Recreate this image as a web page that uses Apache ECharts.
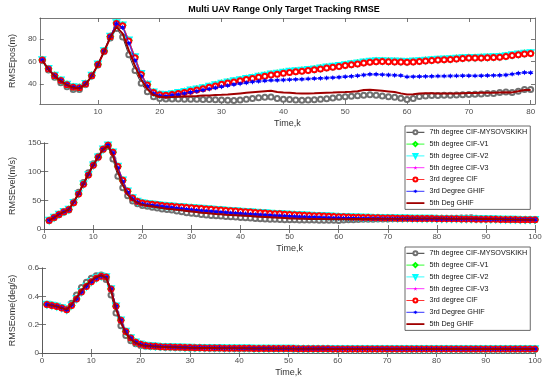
<!DOCTYPE html>
<html><head><meta charset="utf-8">
<script src="https://cdn.jsdelivr.net/npm/echarts@6/dist/echarts.min.js"></script>
<style>html,body{margin:0;padding:0;background:#fff}#c{width:550px;height:384px}</style>
</head><body><div id="c"></div>
<script>
const titleText = 'Multi UAV Range Only Target Tracking RMSE';
const names = ['7th degree CIF-MYSOVSKIKH','5th degree CIF-V1','5th degree CIF-V2','5th degree CIF-V3','3rd degree CIF','3rd Degree GHIF','5th Deg GHIF'];
const yNames = ['RMSEpos(m)','RMSEvel(m/s)','RMSEome(deg/s)'];
const xName = 'Time,k';
const posXTicks = [10,20,30,40,50,60,70,80];
const posYTicks = [40,60,80];

// ---- Position RMSE (k = 1..80)
const posK7 = [61,52.5,46,41,37.5,35,35,39.5,47,57,69,81,89.5,82,66,52,40.5,33,28.5,27,
26.5,26.5,26.5,26.3,26.2,26.2,26.1,26,25.8,25.5,
25.3,25.2,25.5,26.3,27,27.5,28,28.3,27,26.3,
26,25.5,25.3,25.5,25.7,26.2,26.8,27.4,28,28.5,
29,29.3,29.8,30.2,29.8,29.2,28.6,28,27.2,26,
27,28.8,29.2,29.5,29.6,29.8,29.9,30,30.2,30.5,
30.8,31,31.3,31.5,32.3,32.8,32.2,33.5,35,35];
const posV = [61.5,53.5,47.5,43.2,39.5,37.2,36.8,40.2,47.5,57.5,69.5,82.5,94.5,92.5,79,64,49,39.5,32.5,30.5,
30.2,31,32,33,34.2,35.3,36.4,37.6,39,40.4,
41.5,42.5,43.6,44.6,45.6,46.6,47.6,48.6,49.4,50.2,
51,51.5,52,52.6,53.2,54,54.8,55.5,56.2,57,
57.8,58.5,59.3,60,60.5,60.5,60.3,60.2,60,59.8,
60.2,60.6,61,61.4,61.8,62,62.3,62.8,63.2,63.5,
63.5,63.6,63.8,64,64.3,65,65.8,66.5,67.2,67.6];
const posC3 = [61.3,53.3,47.3,43,39.3,37,36.6,40,47.3,57.3,69.3,82.3,94,92,78.5,63.5,48.5,39,32.2,30.2,
29.8,30.5,31.4,32.4,33.5,34.6,35.7,36.9,38.2,39.6,
40.7,41.8,42.9,43.9,44.9,45.9,46.9,47.9,48.7,49.5,
50.2,50.8,51.4,52,52.6,53.4,54.2,54.9,55.6,56.4,
57.2,57.9,58.7,59.4,59.9,60,59.8,59.7,59.5,59.3,
59.7,60.1,60.5,61,61.3,61.6,61.9,62.4,62.8,63.1,
63.1,63.2,63.4,63.6,63.9,64.6,65.4,66.1,66.8,67.2];
const posG3 = [61.4,53.4,47.4,43.1,39.4,37.1,36.7,40.1,47.4,57.4,69.4,82.4,94,90.5,76.5,61,47,38,31.5,29.5,
29,30,30.5,31.5,32.5,33.5,34.5,35.5,36.5,37.5,
38.5,39.5,40.2,41,41.8,42.3,42.8,43.2,43.3,43.5,
43.8,44,44.2,44.5,44.8,45,45.3,45.6,46,46.4,
46.8,47.3,48,48.6,48.6,48.3,48,47.8,47.5,46.3,
46.5,46.6,46.7,46.8,47,47,47.1,47.2,47.3,47.3,
47.2,47.3,47.5,47.6,47.7,48,48.8,49.5,50.2,50];
const posG5 = [61,53,47,42.5,39,36.5,36,39.5,47,57,69,81.5,91,85,70,56,44,35.5,30,28.5,
28,28.2,28.5,28.8,29,29.2,29.5,29.7,30,30.2,
30.5,31,31.5,32,32.5,33,33.5,33.8,32.8,32.2,
32,31.7,31.5,31.5,31.6,31.8,32,32.2,32.5,32.7,
33,33.5,34.5,34.8,34.3,33.8,33.3,32.8,31.5,30.5,
30.8,31.5,31.6,31.6,31.5,31.4,31.4,31.5,31.7,31.8,
31.9,32,32.1,32,32.3,32.6,32.4,33.5,34.5,34.5];

// ---- Velocity RMSE (k = 1..100)
const velK7 = [15,19.5,25,29,33,47,64,81,98,114,127,139,144,122,92,72,58,49,44,41,
39.5,38,36.5,35,34,33,31.5,30,28.5,27.5,
26.5,25.5,24.5,23.5,23,22.5,22,21.5,21,20,
19.5,19,18.5,18,17.5,17,16.8,16.5,16.3,16,
16,15.8,15.7,15.5,15.5,15.4,15.3,15.3,15.2,15,
15.5,16,16.3,16.5,16.8,17,17.2,17.3,17.5,17.6,
17.8,18,18,18.2,18.3,18.4,18.5,18.5,18.6,18.6,
18.7,18.7,18.8,18.8,19,19,19.5,18.8,18.5,18.2,
18,17.5,17,16.5,16.2,16,16.3,16.5,16.2,16];
const velV = [15,20,25.5,30,34,46,61,78,94,111,125,139,146,134,109,85,66,54,48,45.5,
44,43,42.2,41,40.3,39.7,39,38.2,37.6,37,
36.4,35.6,35,34.4,33.6,33.1,32.4,31.7,31.2,30.6,
30,29.5,28.8,28.4,27.8,27.2,26.8,26.4,25.8,25.3,
24.9,24.6,24.1,23.6,23.3,22.9,22.6,22.1,21.8,21.5,
21.2,20.9,20.7,20.4,20.2,20,19.8,19.7,19.4,19.2,
19,18.9,18.7,18.6,18.5,18.4,18.3,18.2,18.1,18,
17.9,17.8,17.7,17.7,17.5,17.4,17.3,17.2,17.1,17,
16.9,16.8,16.7,16.6,16.5,16.4,16.3,16.2,16.1,16];
const velG3 = [15,20,25.5,30,34,46.5,61.5,78.5,95,111.5,125.5,139,146,133,107,83,64,53,47,44,
42.5,41.5,40.5,39.5,38.5,37.5,36.5,35.5,34.5,33.5,
32.8,32,31.3,30.6,30,29.3,28.7,28.1,27.5,27,
26.4,25.9,25.4,24.9,24.4,23.9,23.4,23,22.6,22.2,
21.8,21.4,21.1,20.8,20.5,20.2,19.9,19.6,19.4,19.2,
19,18.8,18.7,18.6,18.5,18.4,18.3,18.2,18.1,18,
18,17.9,17.9,17.8,17.8,17.7,17.7,17.6,17.6,17.5,
17.5,17.4,17.4,17.3,17.3,17.2,17.2,17.1,17.1,17,
16.9,16.8,16.7,16.6,16.5,16.4,16.3,16.3,16.2,16.2];
const velG5 = [15,20,25.5,30,34,47,62,79,96,112,126,139,145,128,100,77,60,51,46,42.5,
41,39.5,38,36.5,35.5,34.5,33.5,32.5,31.5,30.5,
29.5,28.5,27.8,27,26.3,25.7,25,24.5,24,23.5,
23,22.5,22,21.5,21,20.5,20,19.5,19,18.5,
18.2,18,17.8,17.6,17.5,17.4,17.3,17.2,17.1,17,
17.1,17.2,17.3,17.4,17.5,17.6,17.7,17.8,17.8,17.9,
18,18,18,18.1,18.1,18.2,18.2,18.2,18.2,18.2,
18.1,18,18,17.9,17.9,17.8,17.8,17.7,17.6,17.5,
17.3,17.1,16.9,16.7,16.5,16.4,16.3,16.2,16.1,16];

// ---- Angular rate RMSE (k = 1..100)
const omeK7 = [0.345,0.338,0.331,0.321,0.31,0.352,0.41,0.462,0.5,0.527,0.545,0.55,0.518,0.41,0.282,0.192,0.124,0.087,0.066,0.053,
0.048,0.046,0.044,0.042,0.041,0.040,0.039,0.038,0.037,0.036,
0.036,0.035,0.035,0.034,0.034,0.033,0.033,0.033,0.032,0.032,
0.032,0.031,0.031,0.031,0.031,0.030,0.030,0.030,0.030,0.030,
0.029,0.029,0.029,0.029,0.029,0.029,0.029,0.028,0.028,0.028,
0.028,0.028,0.028,0.028,0.028,0.028,0.028,0.028,0.028,0.028,
0.028,0.028,0.028,0.028,0.028,0.028,0.028,0.028,0.028,0.028,
0.028,0.028,0.028,0.028,0.027,0.027,0.027,0.027,0.027,0.027,
0.027,0.027,0.027,0.027,0.027,0.027,0.027,0.027,0.027,0.027];
const omeV = [0.342,0.336,0.329,0.318,0.305,0.336,0.381,0.43,0.47,0.503,0.527,0.542,0.536,0.452,0.33,0.232,0.152,0.106,0.076,0.061,
0.053,0.049,0.047,0.045,0.043,0.042,0.041,0.040,0.039,0.038,
0.037,0.037,0.036,0.036,0.035,0.035,0.034,0.034,0.034,0.033,
0.033,0.033,0.032,0.032,0.032,0.032,0.031,0.031,0.031,0.031,
0.031,0.030,0.030,0.030,0.030,0.030,0.030,0.030,0.029,0.029,
0.029,0.029,0.029,0.029,0.029,0.029,0.029,0.029,0.029,0.028,
0.028,0.028,0.028,0.028,0.028,0.028,0.028,0.028,0.028,0.028,
0.028,0.028,0.028,0.028,0.028,0.028,0.028,0.028,0.028,0.028,
0.028,0.028,0.028,0.028,0.028,0.028,0.028,0.028,0.028,0.028];
const omeG5 = [0.341,0.335,0.328,0.317,0.306,0.342,0.392,0.442,0.482,0.512,0.535,0.548,0.53,0.438,0.312,0.214,0.138,0.097,0.071,0.057,
0.051,0.048,0.046,0.044,0.043,0.041,0.040,0.039,0.038,0.037,
0.037,0.036,0.036,0.035,0.035,0.034,0.034,0.034,0.033,0.033,
0.033,0.032,0.032,0.032,0.032,0.031,0.031,0.031,0.031,0.031,
0.030,0.030,0.030,0.030,0.030,0.030,0.030,0.029,0.029,0.029,
0.029,0.029,0.029,0.029,0.029,0.029,0.029,0.029,0.028,0.028,
0.028,0.028,0.028,0.028,0.028,0.028,0.028,0.028,0.028,0.028,
0.028,0.028,0.028,0.028,0.028,0.028,0.028,0.028,0.028,0.028,
0.028,0.028,0.028,0.028,0.028,0.028,0.028,0.028,0.028,0.028];

const panelData = [
  [posK7, posV, posV, posV, posC3, posG3, posG5],
  [velK7, velV, velV, velV, velV, velG3, velG5],
  [omeK7, omeV, omeV, omeV, omeV, omeV, omeG5]
];

const STAR5 = 'path://M0,-10L2.245,-3.09L9.511,-3.09L3.633,1.18L5.878,8.09L0,3.82L-5.878,8.09L-3.633,1.18L-9.511,-3.09L-2.245,-3.09Z';
const STAR6 = 'path://M0,-10L2.5,-4.33L8.66,-5L5,0L8.66,5L2.5,4.33L0,10L-2.5,4.33L-8.66,5L-5,0L-8.66,-5L-2.5,-4.33Z';
const LINEICON = 'path://M0,0H40V4H0Z';
const styles = [
  {color:'#000000', mc:'#707070', sym:'emptyCircle', size:5, width:0.8},
  {color:'#00ff00', sym:'emptyDiamond', size:5.5, width:0.8},
  {color:'#00ffff', sym:'emptyTriangle', rot:180, size:5.5, width:0.8},
  {color:'#ff00ff', sym:STAR5, size:5.5, width:0.8},
  {color:'#ff0000', sym:'emptyCircle', size:5, width:0.8},
  {color:'#0000ff', sym:STAR6, size:5.5, width:0.8},
  {color:'#a00000', sym:'none', size:0, width:2}
];

const FONT = '"Liberation Sans", Arial, Helvetica, sans-serif';
const grids = [
  {left:33, top:18, width:502, height:86},
  {left:33, top:143, width:502, height:86},
  {left:33, top:268, width:502, height:85}
];
const xRanges = [{min:0.6, max:80.7}, {min:0, max:100, interval:10}, {min:0, max:100, interval:10}];
const yRanges = [{min:22, max:99}, {min:0, max:150, interval:50}, {min:0, max:0.6, interval:0.2}];

const axisColor = '#555';
const xAxes = [], yAxes = [], series = [];
grids.forEach((g, gi) => {
  const xr = Object.assign({}, xRanges[gi]);
  const yr = Object.assign({}, yRanges[gi]);
  const xTick = {show:true, inside:true, length:4, lineStyle:{color:axisColor, width:0.8}};
  const yTick = {show:true, inside:true, length:4, lineStyle:{color:axisColor, width:0.8}};
  const xLab = {show:true, color:'#4d4d4d', fontSize:8, fontFamily:FONT, margin:4};
  const yLab = {show:true, color:'#4d4d4d', fontSize:8, fontFamily:FONT, margin:3};
  if (gi === 0) {
    xTick.customValues = posXTicks; xLab.customValues = posXTicks;
    yTick.customValues = posYTicks; yLab.customValues = posYTicks;
  }
  const base = {type:'value', gridIndex:gi, splitLine:{show:false},
    axisLine:{show:true, lineStyle:{color:axisColor, width:0.8}}};
  xAxes.push(Object.assign({}, base, xr, {position:'bottom', axisTick:xTick, axisLabel:xLab,
    name:xName, nameLocation:'middle', nameGap:15,
    nameTextStyle:{color:'#333', fontSize:9, fontFamily:FONT}}));
  xAxes.push(Object.assign({}, base, xr, {position:'top', axisTick:Object.assign({}, xTick), axisLabel:{show:false}}));
  yAxes.push(Object.assign({}, base, yr, {position:'left', axisTick:yTick, axisLabel:yLab,
    name:yNames[gi], nameLocation:'middle', nameGap:15.5,
    nameTextStyle:{color:'#333', fontSize:9, fontFamily:FONT}}));
  yAxes.push(Object.assign({}, base, yr, {position:'right', axisTick:Object.assign({}, yTick), axisLabel:{show:false}}));

  panelData[gi].forEach((arr, k) => {
    const s = styles[k];
    series.push({
      type:'line', name:names[k], xAxisIndex:gi*2, yAxisIndex:gi*2,
      data: arr.map((v, i) => [i + 1, v]),
      symbol: s.sym, symbolSize: s.size, symbolRotate: s.rot || 0,
      showSymbol: s.sym !== 'none', showAllSymbol: true,
      lineStyle:{color:s.color, width:s.width},
      itemStyle:{color: s.mc || s.color, borderWidth:0.7},
      emphasis:{disabled:true}, silent:true, animation:false,
      z: 2 + k * 0.01
    });
  });
});

function legend(top) {
  return {
    data: names.map((n, k) => k === 6 ? {name:n, icon:LINEICON, itemStyle:{color:'#a00000', borderWidth:0}} : {name:n}),
    orient:'vertical', left:405, top:top,
    itemWidth:18, itemHeight:5, itemGap:3.2,
    padding:[2,3,2,1],
    backgroundColor:'#fff', borderColor:'#444', borderWidth:0.8,
    itemStyle:{borderWidth:0.8},
    lineStyle:{width:0.8},
    textStyle:{color:'#111', fontSize:7.2, fontFamily:FONT, lineHeight:8.6},
    selectedMode:false
  };
}

const chart = echarts.init(document.getElementById('c'), null, {renderer:'canvas'});
chart.setOption({
  backgroundColor:'#fff',
  animation:false,
  grid: grids,
  xAxis: xAxes,
  yAxis: yAxes,
  legend: [legend(126), legend(247)],
  graphic: [{
    type:'text', x:284, y:10,
    style:{text:titleText, fontSize:9, fontWeight:'bold', fontFamily:FONT, fill:'#000', align:'center', verticalAlign:'middle'}
  }],
  series: series
});
</script>
</body></html>
